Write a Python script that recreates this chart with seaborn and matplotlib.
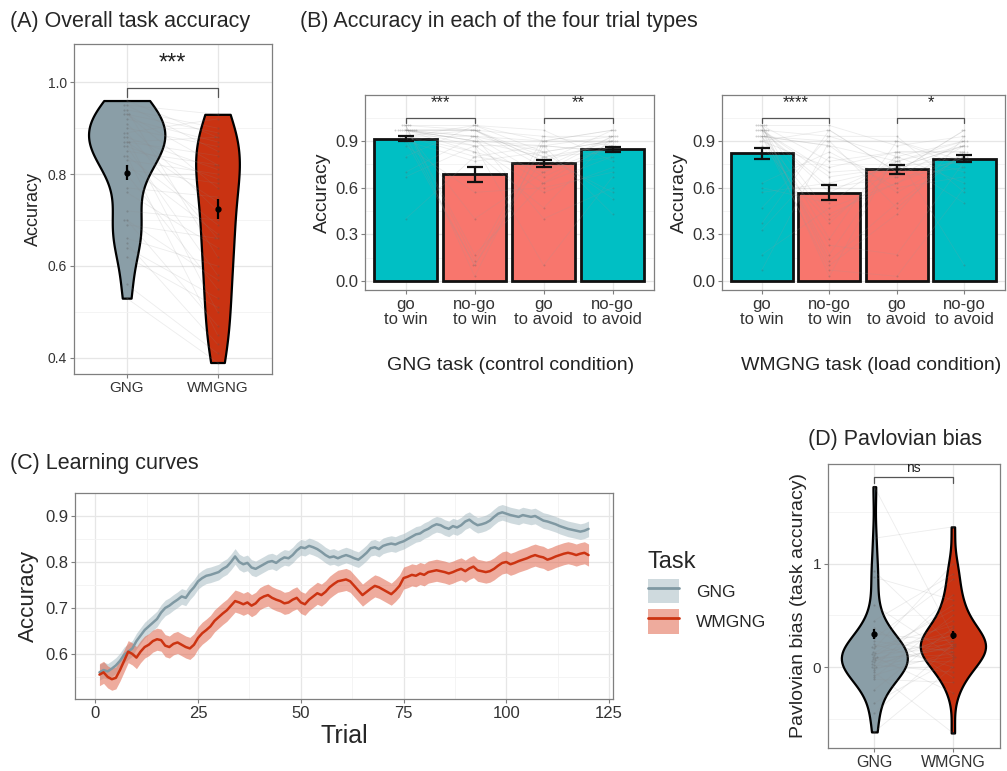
import numpy as np
import pandas as pd
import matplotlib
matplotlib.use("Agg")
import matplotlib.pyplot as plt
from matplotlib.patches import Patch
from matplotlib.lines import Line2D
from matplotlib.ticker import MultipleLocator, FixedLocator
import seaborn as sns

# ---------------- data ----------------
tasks = ["GNG", "WMGNG"]
violin_colors = ["#8A9EA7", "#C93312"]

# (A) overall task accuracy, one value per participant (paired by position)
acc_gng = [0.96, 0.95, 0.95, 0.94, 0.94, 0.93, 0.93, 0.93, 0.92, 0.91,
           0.90, 0.89, 0.89, 0.88, 0.88, 0.87, 0.87, 0.87, 0.86, 0.86,
           0.85, 0.84, 0.84, 0.83, 0.82, 0.81, 0.80, 0.77, 0.76, 0.72,
           0.70, 0.70, 0.69, 0.66, 0.65, 0.64, 0.62, 0.56, 0.53]
acc_wmgng = [0.88, 0.93, 0.85, 0.90, 0.62, 0.89, 0.82, 0.77, 0.87, 0.72,
             0.86, 0.66, 0.92, 0.81, 0.50, 0.84, 0.74, 0.88, 0.58, 0.79,
             0.82, 0.69, 0.45, 0.80, 0.67, 0.78, 0.55, 0.75, 0.64, 0.70,
             0.57, 0.47, 0.66, 0.60, 0.43, 0.53, 0.51, 0.41, 0.39]
acc_mean = [0.803, 0.724]
acc_se = [0.016, 0.021]

# (B) accuracy per trial type
trial_types = ["go\nto win", "no-go\nto win", "go\nto avoid", "no-go\nto avoid"]
bar_colors = ["#00BFC4", "#F8766D", "#F8766D", "#00BFC4"]
gng_type_mean = [0.915, 0.686, 0.757, 0.847]
gng_type_se = [0.015, 0.050, 0.024, 0.017]
wm_type_mean = [0.821, 0.569, 0.718, 0.785]
wm_type_se = [0.036, 0.048, 0.029, 0.023]

gng_go_win = [1.0, 1.0, 0.97, 0.97, 0.97, 0.97, 0.93, 0.93, 0.93, 0.93,
              0.97, 1.0, 0.97, 0.93, 0.9, 0.9, 0.97, 1.0, 0.93, 0.97,
              0.87, 0.97, 0.8, 0.97, 0.7, 1.0, 0.67, 0.93, 0.97, 0.4]
gng_nogo_win = [1.0, 0.97, 0.93, 0.9, 0.87, 0.97, 0.83, 0.8, 1.0, 0.93,
                0.9, 0.03, 0.97, 0.87, 0.1, 0.77, 0.93, 0.13, 0.97, 0.9,
                0.57, 0.83, 1.0, 0.4, 0.93, 0.17, 0.87, 0.1, 0.97, 0.8]
gng_go_avoid = [0.9, 0.93, 0.83, 0.8, 0.87, 0.77, 0.7, 0.73, 0.97, 0.67,
                0.63, 0.9, 0.8, 0.57, 0.87, 0.83, 0.4, 0.93, 0.77, 0.87,
                0.6, 0.47, 0.83, 0.7, 0.9, 0.63, 0.1, 0.8, 0.73, 0.87]
gng_nogo_avoid = [0.97, 0.93, 0.9, 0.87, 0.83, 0.9, 0.93, 0.8, 0.77, 0.87,
                  0.9, 0.97, 0.83, 0.73, 0.93, 0.9, 0.6, 0.87, 0.97, 0.83,
                  0.7, 0.93, 0.53, 0.87, 0.9, 0.8, 0.67, 0.57, 0.93, 0.43]

wm_go_win = [1.0, 0.97, 0.93, 1.0, 0.97, 0.9, 0.93, 0.97, 1.0, 0.87,
             0.63, 0.97, 0.93, 0.6, 1.0, 0.97, 0.47, 0.93, 0.33, 0.97,
             1.0, 0.9, 0.37, 0.93, 0.17, 0.97, 0.57, 1.0, 0.07, 0.93]
wm_nogo_win = [1.0, 0.93, 0.87, 0.77, 0.7, 0.97, 0.9, 0.6, 0.43, 0.37,
               0.83, 0.03, 0.87, 0.5, 0.1, 0.67, 0.93, 0.23, 0.8, 0.57,
               0.13, 0.73, 0.97, 0.07, 0.47, 0.17, 0.63, 0.27, 0.9, 0.4]
wm_go_avoid = [0.87, 0.8, 0.77, 0.83, 0.73, 0.7, 0.9, 0.67, 0.63, 0.77,
               0.6, 0.83, 0.57, 0.8, 0.43, 0.73, 0.93, 0.17, 0.67, 0.77,
               0.5, 0.83, 0.7, 0.03, 0.63, 0.8, 0.73, 0.9, 0.47, 0.7]
wm_nogo_avoid = [0.93, 0.9, 0.87, 0.83, 0.8, 0.97, 0.77, 0.73, 0.87, 0.9,
                 0.67, 0.83, 0.8, 0.63, 0.93, 0.87, 0.57, 0.77, 0.9, 0.5,
                 0.83, 0.7, 0.97, 0.6, 0.8, 0.1, 0.87, 0.73, 0.83, 0.77]

# (C) learning curves (mean accuracy per trial)
trials = list(range(1, 121))
curve_gng = [0.560, 0.565, 0.562, 0.568, 0.575, 0.585, 0.598, 0.605, 0.612, 0.628,
             0.640, 0.652, 0.660, 0.668, 0.676, 0.690, 0.700, 0.705, 0.712, 0.718,
             0.725, 0.722, 0.735, 0.745, 0.758, 0.765, 0.770, 0.772, 0.775, 0.778,
             0.785, 0.790, 0.800, 0.812, 0.800, 0.795, 0.798, 0.788, 0.785, 0.790,
             0.795, 0.800, 0.802, 0.798, 0.805, 0.810, 0.808, 0.815, 0.825, 0.832,
             0.830, 0.835, 0.832, 0.828, 0.822, 0.815, 0.810, 0.812, 0.808, 0.812,
             0.815, 0.812, 0.808, 0.805, 0.812, 0.820, 0.830, 0.832, 0.828, 0.835,
             0.838, 0.840, 0.838, 0.842, 0.845, 0.850, 0.855, 0.860, 0.862, 0.868,
             0.872, 0.878, 0.882, 0.880, 0.875, 0.872, 0.878, 0.875, 0.880, 0.888,
             0.892, 0.885, 0.880, 0.882, 0.885, 0.890, 0.898, 0.905, 0.908, 0.905,
             0.902, 0.900, 0.898, 0.902, 0.900, 0.898, 0.900, 0.895, 0.890, 0.888,
             0.885, 0.882, 0.878, 0.875, 0.872, 0.870, 0.868, 0.866, 0.868, 0.872]
curve_wmgng = [0.555, 0.560, 0.550, 0.545, 0.548, 0.565, 0.585, 0.605, 0.600, 0.592,
               0.605, 0.615, 0.620, 0.628, 0.632, 0.630, 0.618, 0.615, 0.622, 0.625,
               0.620, 0.615, 0.612, 0.620, 0.635, 0.645, 0.652, 0.660, 0.672, 0.680,
               0.688, 0.695, 0.705, 0.715, 0.712, 0.708, 0.712, 0.705, 0.710, 0.720,
               0.725, 0.728, 0.722, 0.718, 0.715, 0.710, 0.712, 0.718, 0.722, 0.712,
               0.708, 0.718, 0.725, 0.732, 0.728, 0.735, 0.745, 0.752, 0.758, 0.760,
               0.762, 0.758, 0.748, 0.738, 0.728, 0.735, 0.742, 0.748, 0.745, 0.740,
               0.735, 0.730, 0.738, 0.748, 0.765, 0.768, 0.772, 0.770, 0.775, 0.772,
               0.778, 0.780, 0.782, 0.780, 0.778, 0.775, 0.778, 0.782, 0.785, 0.780,
               0.786, 0.790, 0.782, 0.780, 0.778, 0.780, 0.785, 0.792, 0.798, 0.800,
               0.795, 0.798, 0.802, 0.805, 0.808, 0.812, 0.815, 0.812, 0.810, 0.805,
               0.808, 0.812, 0.815, 0.818, 0.820, 0.818, 0.815, 0.818, 0.820, 0.815]
curve_se = [0.017, 0.024]
line_colors = ["#7F98A2", "#CC3311"]
ribbon_colors = ["#A9BCC3", "#E0674D"]

# (D) Pavlovian bias, paired by position
bias_gng = [1.75, 1.25, 0.93, 0.87, 0.60, 0.45, 0.38, 0.32, 0.28, 0.25,
            0.22, 0.20, 0.19, 0.18, 0.15, 0.13, 0.12, 0.10, 0.10, 0.09,
            0.08, 0.06, 0.05, 0.03, 0.02, 0.00, 0.00, -0.01, -0.03, -0.05,
            -0.08, -0.10, -0.12, -0.22, -0.35, -0.45, -0.63, 0.14, 0.07]
bias_wmgng = [0.30, 1.36, 0.20, 0.65, 0.10, 0.90, -0.10, 0.25, 0.85, 0.15,
              0.00, 0.40, 0.30, 1.00, 0.22, 0.18, 0.35, -0.25, 0.60, 0.12,
              0.28, 0.05, 0.45, 0.20, -0.05, 0.32, 0.70, 0.10, 0.25, -0.64,
              0.15, 0.50, -0.15, 0.38, 0.08, 0.22, 0.00, 0.55, 0.18]
bias_mean = [0.32, 0.31]
bias_se = [0.05, 0.04]

# ---------------- style ----------------
sns.set_theme(style="whitegrid")
plt.rcParams["font.family"] = ["Liberation Sans", "DejaVu Sans"]

W, H = 1007, 771
fig = plt.figure(figsize=(W / 100, H / 100), dpi=100)


def box(l, t, r, b):
    return [l / W, 1 - b / H, (r - l) / W, (b - t) / H]


def style_axes(ax, tick_fs):
    ax.set_facecolor("white")
    for s in ax.spines.values():
        s.set_visible(True)
        s.set_color("#7F7F7F")
        s.set_linewidth(0.9)
    ax.grid(True, which="major", color="#E6E6E6", lw=0.9)
    ax.grid(True, which="minor", color="#F3F3F3", lw=0.6)
    ax.tick_params(which="major", bottom=True, left=True, length=3, width=0.8,
                   color="#7F7F7F", labelcolor="#333333", labelsize=tick_fs, pad=2)
    ax.tick_params(which="minor", length=0)
    ax.set_axisbelow(True)


def bracket(ax, x0, x1, y, drop, label, fs, ty):
    ax.plot([x0, x0, x1, x1], [y - drop, y, y, y - drop], color="#555555",
            lw=0.9, clip_on=False)
    ax.text((x0 + x1) / 2, ty, label, ha="center", va="center", fontsize=fs,
            color="#222222")


def paired_violin(ax, a, b, mean, se, bw, width):
    df = pd.DataFrame({"task": tasks[0:1] * len(a) + tasks[1:2] * len(b),
                       "value": list(a) + list(b),
                       "pos": [0] * len(a) + [1] * len(b),
                       "subj": list(range(len(a))) * 2})
    sns.violinplot(data=df, x="task", y="value", hue="task", palette=violin_colors,
                   cut=0, inner=None, linewidth=1.6, linecolor="black",
                   density_norm="area", common_norm=True, width=width,
                   bw_adjust=bw, saturation=1, legend=False, ax=ax)
    sns.lineplot(data=df, x="pos", y="value", units="subj", estimator=None,
                 color="#8C8C8C", alpha=0.16, lw=0.6, ax=ax, legend=False)
    sns.swarmplot(data=df, x="task", y="value", color="#555555", alpha=0.3,
                  size=1.5, ax=ax, legend=False)
    ax.errorbar([0, 1], mean, yerr=se, fmt="o", color="black", ms=3.5,
                elinewidth=1.6, capsize=0, zorder=5)
    ax.set_xticks([0, 1])
    ax.set_xticklabels(tasks)


def trial_bars(ax, cols, mean, se):
    n = len(cols[0])
    df = pd.DataFrame({"type": np.repeat(trial_types, n),
                       "pos": np.repeat(np.arange(4), n),
                       "value": np.concatenate(cols),
                       "subj": list(range(n)) * 4})
    sns.barplot(x=trial_types, y=mean, hue=trial_types, palette=bar_colors,
                edgecolor="#111111", linewidth=2.0, width=0.92, saturation=1,
                legend=False, ax=ax, errorbar=None)
    sns.lineplot(data=df, x="pos", y="value", units="subj", estimator=None,
                 color="#9A9A9A", alpha=0.18, lw=0.6, ax=ax, legend=False)
    sns.swarmplot(data=df, x="type", y="value", color="#555555", alpha=0.28,
                  size=1.4, ax=ax, legend=False)
    ax.errorbar(range(4), mean, yerr=se, fmt="none", ecolor="#111111",
                elinewidth=1.6, capsize=5.5, capthick=1.6, zorder=6)
    ax.set_xticks(range(4))
    ax.set_xticklabels(trial_types, fontsize=12.5, linespacing=1.0)
    ax.set_xlim(-0.59, 3.6)
    ax.set_ylim(-0.058, 1.196)
    ax.yaxis.set_major_locator(FixedLocator([0, 0.3, 0.6, 0.9]))
    ax.yaxis.set_major_formatter(matplotlib.ticker.FormatStrFormatter("%.1f"))
    ax.yaxis.set_minor_locator(FixedLocator([0.15, 0.45, 0.75, 1.05]))
    ax.set_xlabel("")
    ax.set_ylabel("Accuracy", fontsize=14, labelpad=3)
    style_axes(ax, 12)


# ---------------- (A) ----------------
axA = fig.add_axes(box(74, 44, 272, 374))
paired_violin(axA, acc_gng, acc_wmgng, acc_mean, acc_se, 0.9, 0.84)
axA.set_xlim(-0.58, 1.6)
axA.set_ylim(0.365, 1.083)
axA.yaxis.set_major_locator(FixedLocator([0.4, 0.6, 0.8, 1.0]))
axA.yaxis.set_major_formatter(matplotlib.ticker.FormatStrFormatter("%.1f"))
axA.yaxis.set_minor_locator(FixedLocator([0.5, 0.7, 0.9]))
axA.set_xlabel("")
axA.set_ylabel("Accuracy", fontsize=13, labelpad=4)
style_axes(axA, 10)
axA.tick_params(axis="x", labelsize=11)
bracket(axA, 0, 1, 0.987, 0.02, "***", 17, 1.04)

# ---------------- (B) ----------------
axB1 = fig.add_axes(box(365, 95, 654, 290))
trial_bars(axB1, [gng_go_win, gng_nogo_win, gng_go_avoid, gng_nogo_avoid],
           gng_type_mean, gng_type_se)
bracket(axB1, 0, 1, 1.05, 0.035, "***", 12, 1.145)
bracket(axB1, 2, 3, 1.05, 0.035, "**", 12, 1.145)

axB2 = fig.add_axes(box(722, 95, 1005, 290))
trial_bars(axB2, [wm_go_win, wm_nogo_win, wm_go_avoid, wm_nogo_avoid],
           wm_type_mean, wm_type_se)
bracket(axB2, 0, 1, 1.05, 0.035, "****", 12, 1.145)
bracket(axB2, 2, 3, 1.05, 0.035, "*", 12, 1.145)

fig.text(511 / W, 1 - 365 / H, "GNG task (control condition)", ha="center",
         va="center", fontsize=14, color="#222222")
fig.text(871 / W, 1 - 365 / H, "WMGNG task (load condition)", ha="center",
         va="center", fontsize=14, color="#222222")

# ---------------- (C) ----------------
axC = fig.add_axes(box(75, 493, 613, 699))
curves = pd.DataFrame({"Trial": trials * 2,
                       "Accuracy": curve_gng + curve_wmgng,
                       "Task": ["GNG"] * len(trials) + ["WMGNG"] * len(trials)})
for i, (task, vals) in enumerate(zip(tasks, [curve_gng, curve_wmgng])):
    v = np.array(vals)
    axC.fill_between(trials, v - curve_se[i], v + curve_se[i],
                     color=ribbon_colors[i], alpha=0.55, lw=0)
sns.lineplot(data=curves, x="Trial", y="Accuracy", hue="Task",
             palette=line_colors, lw=1.8, ax=axC, legend=False)
axC.set_xlim(-4.95, 125.95)
axC.set_ylim(0.502, 0.95)
axC.xaxis.set_major_locator(MultipleLocator(25))
axC.xaxis.set_minor_locator(MultipleLocator(12.5))
axC.yaxis.set_major_locator(FixedLocator([0.6, 0.7, 0.8, 0.9]))
axC.yaxis.set_minor_locator(FixedLocator([0.55, 0.65, 0.75, 0.85]))
style_axes(axC, 12)
axC.set_xlabel("Trial", fontsize=18, labelpad=2)
axC.set_ylabel("Accuracy", fontsize=16, labelpad=4)

handles = [(Patch(facecolor=ribbon_colors[i], alpha=0.55, lw=0),
            Line2D([], [], color=line_colors[i], lw=2)) for i in range(2)]
leg = axC.legend(handles, tasks, title="Task", loc="upper left",
                 bbox_to_anchor=(632 / W, 1 - 535 / H), bbox_transform=fig.transFigure,
                 frameon=False, fontsize=12.5, title_fontsize=17,
                 handlelength=1.8, handleheight=1.8, labelspacing=0.35,
                 handletextpad=1.0)
leg._legend_box.align = "left"

# ---------------- (D) ----------------
axD = fig.add_axes(box(828, 464, 1000, 748))
paired_violin(axD, bias_gng, bias_wmgng, bias_mean, bias_se, 0.9, 0.84)
axD.set_xlim(-0.59, 1.6)
axD.set_ylim(-0.786, 1.97)
axD.yaxis.set_major_locator(FixedLocator([0, 1]))
axD.yaxis.set_major_formatter(matplotlib.ticker.FormatStrFormatter("%d"))
axD.yaxis.set_minor_locator(FixedLocator([-0.5, 0.5, 1.5]))
axD.set_xlabel("")
axD.set_ylabel("Pavlovian bias (task accuracy)", fontsize=14, labelpad=4)
style_axes(axD, 11)
axD.tick_params(axis="x", labelsize=11.5)
bracket(axD, 0, 1, 1.845, 0.06, "ns", 10, 1.93)

# ---------------- panel titles ----------------
fig.text(10 / W, 1 - 22 / H, "(A) Overall task accuracy", fontsize=15.5,
         va="center", ha="left")
fig.text(300 / W, 1 - 22 / H, "(B) Accuracy in each of the four trial types",
         fontsize=15.5, va="center", ha="left")
fig.text(10 / W, 1 - 463 / H, "(C) Learning curves", fontsize=15.5,
         va="center", ha="left")
fig.text(808 / W, 1 - 440 / H, "(D) Pavlovian bias", fontsize=15.5,
         va="center", ha="left")

fig.savefig("out.png", dpi=100)
